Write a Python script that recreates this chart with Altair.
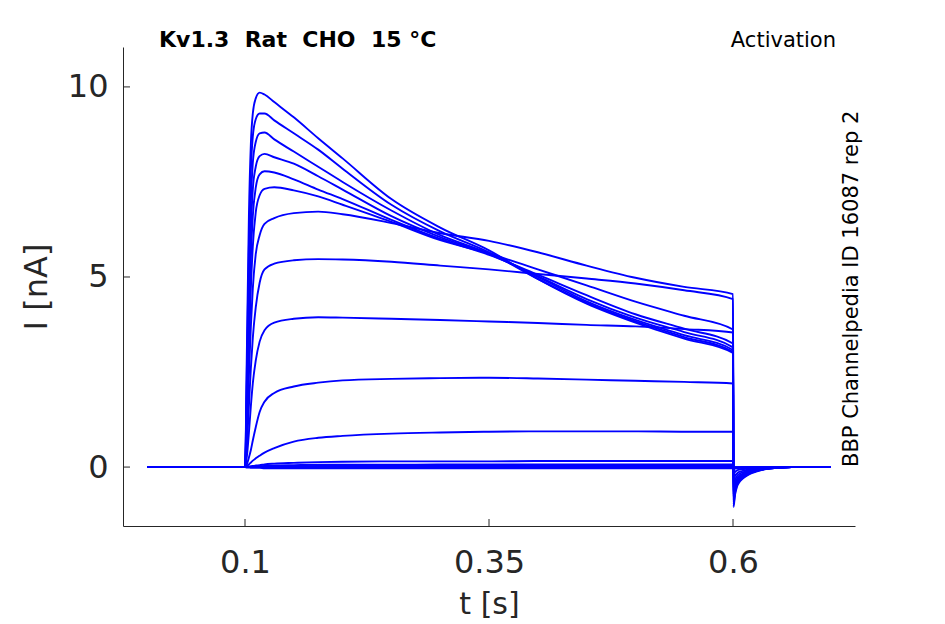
import altair as alt
import pandas as pd

# time grid (s)
T = [0.0, 0.1, 0.102, 0.104, 0.106, 0.108, 0.111, 0.115, 0.12, 0.13, 0.15, 0.175, 0.2,
     0.25, 0.3, 0.35, 0.4, 0.45, 0.5, 0.55, 0.6,
     0.6005, 0.602, 0.604, 0.607, 0.61, 0.615, 0.62, 0.63, 0.645, 0.66, 0.7]

# current traces (nA)
tr01 = [0, 0, 3.2, 6.6, 8.5, 9.3, 9.7, 9.85, 9.8, 9.6, 9.2, 8.65, 8.12, 7.05, 6.3, 5.7, 4.95, 4.3, 3.8, 3.38, 3.0,
        -1.05, -0.74, -0.52, -0.38, -0.3, -0.21, -0.15, -0.07, -0.02, 0, 0]
tr02 = [0, 0, 2.7, 5.8, 7.8, 8.7, 9.15, 9.3, 9.3, 9.12, 8.78, 8.35, 7.85, 6.9, 6.2, 5.65, 4.95, 4.32, 3.83, 3.42, 3.03,
        -0.98, -0.69, -0.49, -0.35, -0.28, -0.2, -0.14, -0.07, -0.02, 0, 0]
tr03 = [0, 0, 2.3, 5.0, 7.0, 8.0, 8.55, 8.78, 8.8, 8.62, 8.3, 7.9, 7.5, 6.75, 6.1, 5.62, 5.0, 4.36, 3.87, 3.47, 3.08,
        -0.92, -0.64, -0.46, -0.33, -0.27, -0.18, -0.13, -0.06, -0.02, 0, 0]
tr04 = [0, 0, 1.9, 4.3, 6.2, 7.3, 7.9, 8.18, 8.24, 8.15, 7.98, 7.65, 7.3, 6.6, 6.05, 5.6, 5.02, 4.42, 3.93, 3.55, 3.15,
        -0.88, -0.62, -0.44, -0.32, -0.26, -0.18, -0.12, -0.06, -0.02, 0, 0]
tr05 = [0, 0, 1.6, 3.7, 5.5, 6.6, 7.35, 7.7, 7.78, 7.75, 7.57, 7.3, 7.05, 6.5, 6.0, 5.58, 5.06, 4.52, 4.02, 3.64, 3.25,
        -0.84, -0.59, -0.42, -0.3, -0.24, -0.17, -0.12, -0.06, -0.02, 0, 0]
tr06 = [0, 0, 1.3, 3.1, 4.7, 5.8, 6.7, 7.15, 7.32, 7.36, 7.28, 7.12, 6.9, 6.45, 5.97, 5.62, 5.2, 4.78, 4.35, 3.98, 3.62,
        -0.78, -0.55, -0.39, -0.28, -0.23, -0.16, -0.11, -0.05, -0.02, 0, 0]
tr07 = [0, 0, 1.0, 2.4, 3.7, 4.7, 5.6, 6.1, 6.4, 6.55, 6.68, 6.72, 6.65, 6.42, 6.15, 5.95, 5.65, 5.3, 4.98, 4.74, 4.55,
        -0.72, -0.5, -0.36, -0.26, -0.21, -0.14, -0.1, -0.05, -0.01, 0, 0]
tr08 = [0, 0, 0.6, 1.6, 2.6, 3.4, 4.2, 4.85, 5.2, 5.35, 5.44, 5.47, 5.46, 5.4, 5.3, 5.2, 5.08, 4.96, 4.83, 4.65, 4.42,
        -0.62, -0.43, -0.31, -0.22, -0.18, -0.12, -0.09, -0.04, -0.01, 0, 0]
tr09 = [0, 0, 0.3, 0.9, 1.6, 2.2, 2.8, 3.3, 3.6, 3.8, 3.9, 3.94, 3.93, 3.9, 3.87, 3.83, 3.79, 3.74, 3.7, 3.63, 3.54,
        -0.48, -0.34, -0.24, -0.17, -0.14, -0.1, -0.07, -0.03, -0.01, 0, 0]
tr10 = [0, 0, 0.08, 0.25, 0.45, 0.7, 1.05, 1.45, 1.72, 1.95, 2.12, 2.22, 2.28, 2.32, 2.34, 2.35, 2.33, 2.3, 2.27, 2.24, 2.2,
        -0.34, -0.24, -0.17, -0.12, -0.1, -0.07, -0.05, -0.02, -0.01, 0, 0]
tr11 = [0, 0, 0.03, 0.07, 0.12, 0.17, 0.23, 0.3, 0.38, 0.5, 0.67, 0.77, 0.82, 0.88, 0.91, 0.93, 0.94, 0.94, 0.94, 0.93, 0.93,
        -0.18, -0.13, -0.09, -0.06, -0.05, -0.04, -0.03, -0.01, 0, 0, 0]
tr12 = [0, 0, 0.005, 0.01, 0.02, 0.03, 0.04, 0.05, 0.07, 0.09, 0.11, 0.13, 0.14, 0.15, 0.15, 0.15, 0.16, 0.16, 0.16, 0.16, 0.16,
        -0.06, -0.04, -0.03, -0.02, -0.02, -0.01, -0.01, 0, 0, 0, 0]
tr13 = [0, 0, 0, 0.01, 0.01, 0.01, 0.02, 0.02, 0.03, 0.04, 0.05, 0.06, 0.06, 0.06, 0.07, 0.07, 0.07, 0.07, 0.07, 0.07, 0.07,
        -0.03, -0.02, -0.02, -0.01, -0.01, 0, 0, 0, 0, 0, 0]
tr14 = [0, 0, 0, 0, 0.01, 0.01, 0.01, 0.01, 0.02, 0.02, 0.02, 0.03, 0.03, 0.03, 0.03, 0.03, 0.03, 0.03, 0.03, 0.03, 0.03,
        -0.02, -0.01, -0.01, -0.01, 0, 0, 0, 0, 0, 0, 0]
tr15 = [0, 0, 0, 0, 0, 0, 0, 0, 0, 0, 0, 0, 0, 0, 0, 0, 0, 0, 0, 0, 0,
        -0.01, 0, 0, 0, 0, 0, 0, 0, 0, 0, 0]
tr16 = [0, 0, -0.01, -0.01, -0.02, -0.02, -0.02, -0.02, -0.03, -0.03, -0.03, -0.03, -0.03, -0.03, -0.03, -0.03, -0.03, -0.03,
        -0.03, -0.03, -0.03, -0.01, 0, 0, 0, 0, 0, 0, 0, 0, 0, 0]

traces = [tr01, tr02, tr03, tr04, tr05, tr06, tr07, tr08, tr09, tr10, tr11, tr12, tr13, tr14, tr15, tr16]

x_ticks = [0.1, 0.35, 0.6]
y_ticks = [0, 5, 10]

NB = "\u00a0"
title_left = f"Kv1.3{NB}{NB}Rat{NB}{NB}CHO{NB}{NB}15{NB}°C"
title_right = "Activation"
side_label = "BBP Channelpedia ID 16087 rep 2"

rows = []
for k, tr in enumerate(traces):
    for i, (t, v) in enumerate(zip(T, tr)):
        rows.append({"trace": k, "i": i, "t": t, "I": v})
df = pd.DataFrame(rows)

W, H = 732, 479
FONT = "DejaVu Sans"
INK = "#262626"

xs = alt.Scale(domain=[-0.025, 0.725], nice=False, zero=False)
ys = alt.Scale(domain=[-1.55, 11.05], nice=False, zero=False)

lines = alt.Chart(df).mark_line(color="#0000ff", strokeWidth=1.9, interpolate="monotone").encode(
    x=alt.X("t:Q", scale=xs, title="t [s]",
            axis=alt.Axis(values=x_ticks, format="~g", ticks=False, grid=False,
                          labelPadding=21, titlePadding=11, titleFontSize=30)),
    y=alt.Y("I:Q", scale=ys, title="I [nA]",
            axis=alt.Axis(values=y_ticks, format="d", ticks=False, grid=False,
                          labelPadding=15, titlePadding=14)),
    detail="trace:N",
    order="i:Q",
)

xt = alt.Chart(pd.DataFrame({"t": x_ticks})).mark_rule(color=INK, strokeWidth=1).encode(
    x=alt.X("t:Q", scale=xs), y=alt.value(H), y2=alt.value(H - 7))
yt = alt.Chart(pd.DataFrame({"I": y_ticks})).mark_rule(color=INK, strokeWidth=1).encode(
    y=alt.Y("I:Q", scale=ys), x=alt.value(0), x2=alt.value(7))

t1 = alt.Chart(pd.DataFrame({"s": [title_left]})).mark_text(
    font=FONT, fontSize=22, fontWeight="bold", color="black", align="left", baseline="alphabetic"
).encode(text="s:N", x=alt.value(36), y=alt.value(0))
t2 = alt.Chart(pd.DataFrame({"s": [title_right]})).mark_text(
    font=FONT, fontSize=21, color="black", align="right", baseline="alphabetic"
).encode(text="s:N", x=alt.value(713), y=alt.value(0))
t3 = alt.Chart(pd.DataFrame({"s": [side_label]})).mark_text(
    font=FONT, fontSize=21, color="black", align="left", baseline="alphabetic", angle=270
).encode(text="s:N", x=alt.value(735), y=alt.value(420))

chart = alt.layer(lines, xt, yt, t1, t2, t3).properties(
    width=W, height=H,
    autosize=alt.AutoSizeParams(type="none"),
    padding={"left": 115, "top": 39, "right": 82, "bottom": 98},
    background="white",
).configure_view(stroke=None).configure_axis(
    domainColor=INK, domainWidth=1, labelColor=INK, titleColor=INK,
    labelFont=FONT, titleFont=FONT, labelFontSize=32, titleFontSize=32,
    titleFontWeight="normal",
)

chart.save("out.html", embed_options={"renderer": "svg", "actions": False})
